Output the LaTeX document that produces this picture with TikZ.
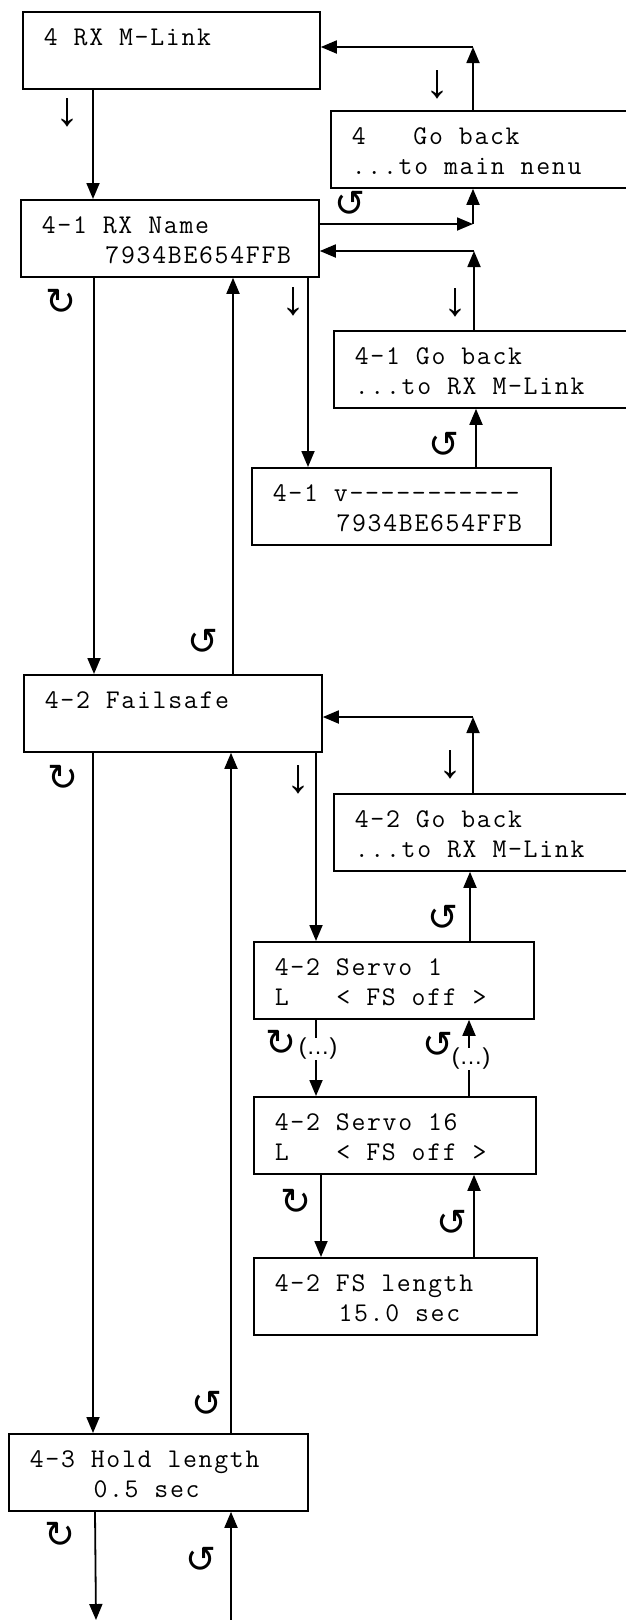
\documentclass[tikz,border=0pt]{standalone}
\usepackage{fontspec}
\newfontfamily\monof{Latin Modern Mono}[LetterSpace=6.3]
\newfontfamily\symf{DejaVu Sans}
\newfontfamily\arf{Liberation Sans}
\usetikzlibrary{arrows.meta}
\newcommand\boxtxt[2]{\spaceskip=0pt\xspaceskip=0pt\rule{0pt}{34pt}#1\\\rule[-13pt]{0pt}{13pt}#2}
\newcommand\monosetup{\monof\fontsize{27}{30}\selectfont
  \fontdimen2\font=15.9pt\fontdimen3\font=0pt\fontdimen4\font=0pt\fontdimen7\font=0pt}
\tikzset{
  box/.style={draw, line width=1.8pt, inner xsep=21pt, inner ysep=0pt, anchor=north west, align=flush left,
    font=\monosetup},
  arr/.style={line width=1.8pt, -{Triangle[length=16pt,width=13pt]}},
  dn/.style={inner sep=0pt, font=\arf\fontsize{48}{48}\selectfont},
  cw/.style={inner sep=0pt, font=\symf\fontsize{37}{37}\selectfont},
  dots/.style={inner sep=0.5pt, fill=white, font=\arf\fontsize{23}{23}\selectfont}
}
\begin{document}
\begin{tikzpicture}[x=1pt,y=-1pt]
\fill[white] (0,0) rectangle (626,1620);
\useasboundingbox (0,0) rectangle (626,1620);
% boxes
\node[box, text width=255pt] (A) at (22,11) {\boxtxt{4 RX M-Link}{}};
\node[box, text width=258pt] (B) at (330,110) {\boxtxt{4~~~Go back}{...to main nenu}};
\node[box, text width=256pt] (C) at (20,199) {\boxtxt{4-1 RX Name}{~~~~7934BE654FFB}};
\node[box, text width=255pt] (D) at (333,330) {\boxtxt{4-1 Go back}{...to RX M-Link}};
\node[box, text width=257pt] (E) at (251,467) {\boxtxt{4-1 v-{}-{}-{}-{}-{}-{}-{}-{}-{}-{}-}{~~~~7934BE654FFB}};
\node[box, text width=256pt] (F) at (23,674) {\boxtxt{4-2 Failsafe}{}};
\node[box, text width=255pt] (G) at (333,793) {\boxtxt{4-2 Go back}{...to RX M-Link}};
\node[box, text width=238pt] (H) at (253,941) {\boxtxt{4-2 Servo 1}{L~~~< FS off >}};
\node[box, text width=240pt] (I) at (253,1096) {\boxtxt{4-2 Servo 16}{L~~~< FS off >}};
\node[box, text width=241pt] (J) at (253,1257) {\boxtxt{4-2 FS length}{~~~~15.0 sec}};
\node[box, text width=257pt] (K) at (8,1433) {\boxtxt{4-3 Hold length}{~~~~0.5 sec}};
% helper coordinates
\coordinate (tA) at (473,47);
\coordinate (tB) at (473,224);
\coordinate (tC) at (474,251);
\coordinate (tF) at (473,717);
\coordinate (o1) at (96,1620);
\coordinate (i1) at (231,1620);
% connectors
\draw[arr] (93,0 |- A.south) -- (93,0 |- C.north);
\draw[arr] (tA |- B.north) -- (tA);
\draw[arr] (tA) -- (tA -| A.east);
\draw[arr] (C.east |- tB) -- (tB);
\draw[arr] (tB) -- (tB |- B.south);
\draw[arr] (tC |- D.north) -- (tC);
\draw[arr] (tC) -- (tC -| C.east);
\draw[arr] (308,0 |- C.south) -- (308,0 |- E.north);
\draw[arr] (476,0 |- E.north) -- (476,0 |- D.south);
\draw[arr] (94,0 |- C.south) -- (94,0 |- F.north);
\draw[arr] (233,0 |- F.north) -- (233,0 |- C.south);
\draw[arr] (tF |- G.north) -- (tF);
\draw[arr] (tF) -- (tF -| F.east);
\draw[arr] (316,0 |- F.south) -- (316,0 |- H.north);
\draw[arr] (470,0 |- H.north) -- (470,0 |- G.south);
\draw[arr] (93,0 |- F.south) -- (93,0 |- K.north);
\draw[arr] (231,0 |- K.north) -- (231,0 |- F.south);
\draw[arr] (316,0 |- H.south) -- (316,0 |- I.north);
\draw[arr] (469,0 |- I.north) -- (469,0 |- H.south);
\draw[arr] (321,0 |- I.south) -- (321,0 |- J.north);
\draw[arr] (474,0 |- J.north) -- (474,0 |- I.south);
\draw[arr] (95,0 |- K.south) -- (o1);
\draw[arr] (i1) -- (i1 |- K.south);
% labels: down arrows
\node[dn] (d1) at (67,113) {↓};
\node[dn] (d2) at (437,85) {↓};
\node[dn] (d3) at (293,302) {↓};
\node[dn] (d4) at (455,303) {↓};
\node[dn] (d5) at (450,765) {↓};
\node[dn] (d6) at (298,780) {↓};
% clockwise
\node[cw] (c1) at (61,302) {↻};
\node[cw] (c2) at (63,778) {↻};
\node[cw] (c3) at (281,1043) {↻};
\node[cw] (c4) at (296,1202) {↻};
\node[cw] (c5) at (60,1535) {↻};
% anticlockwise
\node[cw] (a1) at (350,204) {↺};
\node[cw] (a2) at (444,445) {↺};
\node[cw] (a3) at (203,642) {↺};
\node[cw] (a4) at (443,918) {↺};
\node[cw] (a5) at (438,1045) {↺};
\node[cw] (a6) at (452,1223) {↺};
\node[cw] (a7) at (207,1404) {↺};
\node[cw] (a8) at (201,1560) {↺};
% (...)
\node[dots] (p1) at (318,1049) {(…)};
\node[dots] (p2) at (471,1059) {(…)};
\end{tikzpicture}
\end{document}
